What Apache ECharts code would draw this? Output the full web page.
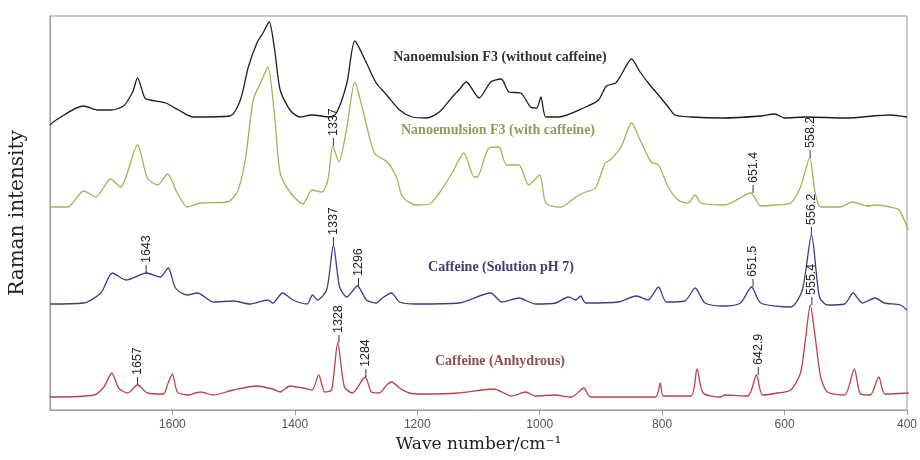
<!DOCTYPE html>
<html>
<head>
<meta charset="UTF-8">
<title>Raman spectra</title>
<script src="https://cdn.jsdelivr.net/npm/echarts@6/dist/echarts.min.js"></script>
<style>
html,body{margin:0;padding:0;background:#fff;}
#chart{width:920px;height:460px;}
</style>
</head>
<body>
<div id="chart"></div>
<script>
// [wave number cm-1, intensity (arb. units, traces stacked with offsets)]
var noCaffeine = [[1800,285],[1790,290],[1746,304],[1722,300],[1701,300],[1680,304],[1665,318],[1657,332],[1645,312],[1636,310],[1611,307],[1590,300],[1566,293],[1506,294],[1489,310],[1476,343],[1462,367],[1452,377],[1442,388],[1433,360],[1424,320],[1408,300],[1392,293],[1372,295],[1343,293],[1332,297],[1315,327],[1302,369],[1283,347],[1267,327],[1250,315],[1229,300],[1208,293],[1185,292],[1164,298],[1143,313],[1132,320],[1120,328],[1099,312],[1080,328],[1063,331],[1050,318],[1031,317],[1015,303],[1005,302],[998,313],[990,293],[969,293],[925,303],[904,310],[891,324],[876,327],[867,335],[850,351],[836,338],[820,325],[806,315],[790,303],[779,295],[753,293],[700,292],[639,294],[616,296],[600,292],[566,293],[500,292],[428,295],[400,293]];

var withCaffeine = [[1798,203],[1771,203],[1745,219],[1725,213],[1701,231],[1685,223],[1657,265],[1641,232],[1624,225],[1608,236],[1592,217],[1576,203],[1554,207],[1511,208],[1494,218],[1481,250],[1468,310],[1454,330],[1444,343],[1433,293],[1424,237],[1408,218],[1387,206],[1372,220],[1356,218],[1346,230],[1338,264],[1328,248],[1315,283],[1302,328],[1289,300],[1270,257],[1249,248],[1234,233],[1224,213],[1202,205],[1180,206],[1164,217],[1143,237],[1124,257],[1107,233],[1102,233],[1083,262],[1067,263],[1054,245],[1034,245],[1018,225],[1000,235],[990,207],[966,203],[941,213],[925,218],[909,222],[893,247],[885,250],[867,263],[850,287],[836,270],[818,248],[806,245],[790,223],[774,210],[758,207],[746,215],[737,207],[698,205],[655,217],[639,204],[616,205],[590,207],[574,223],[559,252],[550,217],[541,203],[509,203],[489,208],[465,204],[449,205],[428,203],[413,200],[398,180]];

var solutionPH7 = [[1800,106],[1745,107],[1717,117],[1698,137],[1676,130],[1642,137],[1620,133],[1607,142],[1595,122],[1576,115],[1559,117],[1533,108],[1501,109],[1473,106],[1444,110],[1436,107],[1420,117],[1403,110],[1380,106],[1371,115],[1363,110],[1348,120],[1337,165],[1327,123],[1315,113],[1298,124],[1283,110],[1267,107],[1257,112],[1242,117],[1229,108],[1202,106],[1132,107],[1080,117],[1062,108],[1034,112],[1007,106],[974,107],[953,113],[941,110],[933,114],[925,107],[872,108],[842,114],[823,110],[806,123],[793,108],[763,109],[746,122],[730,107],[698,104],[672,107],[654,123],[639,107],[590,103],[571,120],[556,175],[543,113],[530,105],[502,106],[488,117],[473,107],[452,112],[437,107],[411,105],[400,100]];

var anhydrous = [[1800,13],[1728,15],[1712,23],[1699,37],[1688,22],[1673,17],[1657,25],[1641,17],[1615,16],[1607,27],[1600,36],[1592,18],[1576,15],[1554,18],[1533,15],[1501,20],[1462,24],[1436,21],[1424,18],[1408,24],[1387,22],[1372,20],[1361,35],[1351,18],[1340,20],[1330,67],[1319,23],[1306,17],[1285,33],[1275,18],[1262,17],[1250,25],[1242,28],[1229,22],[1213,17],[1192,16],[1132,17],[1075,21],[1046,14],[1023,18],[1007,14],[977,15],[948,13],[928,22],[917,13],[811,13],[803,27],[798,14],[753,14],[743,41],[733,17],[704,13],[698,15],[660,14],[646,35],[636,15],[611,17],[590,20],[574,37],[566,70],[558,105],[550,73],[541,33],[530,18],[502,15],[486,41],[476,16],[460,15],[446,33],[436,16],[397,17]];

var peaksWithCaffeine = ['1337', '651.4', '558.2'];
var peaksPH7 = ['1643', '1337', '1296', '651.5', '556.2'];
var peaksAnhydrous = ['1657', '1328', '1284', '642.9', '555.4'];

var traceNames = ['Nanoemulsion F3 (without caffeine)', 'Nanoemulsion F3 (with caffeine)', 'Caffeine (Solution pH 7)', 'Caffeine (Anhydrous)'];

// highest point of a trace near a wave number
function peakNear(data, wn) {
  var best = -Infinity;
  data.forEach(function (d) {
    if (Math.abs(d[0] - wn) <= 8 && d[1] > best) best = d[1];
  });
  return best;
}

function spectrum(name, data, color, peaks) {
  return {
    name: name,
    type: 'line',
    data: data,
    showSymbol: false,
    smooth: 0.25,
    silent: true,
    lineStyle: {color: color, width: 1.3},
    itemStyle: {color: color},
    markPoint: {
      symbol: 'rect',
      symbolSize: [1, 8],
      symbolOffset: [0, '-50%'],
      silent: true,
      itemStyle: {color: '#333'},
      label: {
        show: true, position: 'top', distance: 2, rotate: 90,
        align: 'left', verticalAlign: 'middle',
        color: '#222', fontSize: 12.5, fontFamily: 'Liberation Sans',
        formatter: function (p) { return p.name; }
      },
      data: peaks.map(function (p) {
        var wn = parseFloat(p);
        return {name: p, coord: [wn, peakNear(data, wn)]};
      })
    }
  };
}

function traceLabel(i, x, y, color) {
  return {type: 'text', x: x, y: y, silent: true,
    style: {text: traceNames[i], fill: color, font: 'bold 14px "Liberation Serif"', textAlign: 'center', textVerticalAlign: 'middle'}};
}

var chart = echarts.init(document.getElementById('chart'));
chart.setOption({
  animation: false,
  backgroundColor: '#fff',
  grid: {left: 49, right: 9, top: 16, bottom: 50, show: true, borderColor: '#9a9a9a', borderWidth: 1},
  xAxis: {
    type: 'value', inverse: true, min: 400, max: 1800, interval: 200,
    name: 'Wave number/cm⁻¹', nameLocation: 'middle', nameGap: 26,
    nameTextStyle: {fontFamily: 'DejaVu Serif', fontSize: 17, color: '#222'},
    axisLine: {lineStyle: {color: '#9a9a9a'}},
    axisTick: {lineStyle: {color: '#9a9a9a'}, length: 5},
    axisLabel: {color: '#555', fontFamily: 'Liberation Sans', fontSize: 12, margin: 9, showMaxLabel: false,
      formatter: function (v) { return String(v); }},
    splitLine: {show: false}
  },
  yAxis: {
    type: 'value', min: 0, max: 394,
    name: 'Raman intensity', nameLocation: 'middle', nameGap: 22,
    nameTextStyle: {fontFamily: 'DejaVu Serif', fontSize: 20, color: '#222'},
    axisLine: {show: true, lineStyle: {color: '#9a9a9a'}},
    axisTick: {show: false}, axisLabel: {show: false}, splitLine: {show: false}
  },
  graphic: [
    traceLabel(0, 500, 57, '#333333'),
    traceLabel(1, 498, 130, '#8f9b58'),
    traceLabel(2, 501, 267, '#3f4370'),
    traceLabel(3, 500, 361, '#8e5050')
  ],
  series: [
    spectrum(traceNames[0], noCaffeine, '#1e1e1e', []),
    spectrum(traceNames[1], withCaffeine, '#a3b355', peaksWithCaffeine),
    spectrum(traceNames[2], solutionPH7, '#3a3f86', peaksPH7),
    spectrum(traceNames[3], anhydrous, '#b5444c', peaksAnhydrous)
  ]
});
</script>
</body>
</html>
